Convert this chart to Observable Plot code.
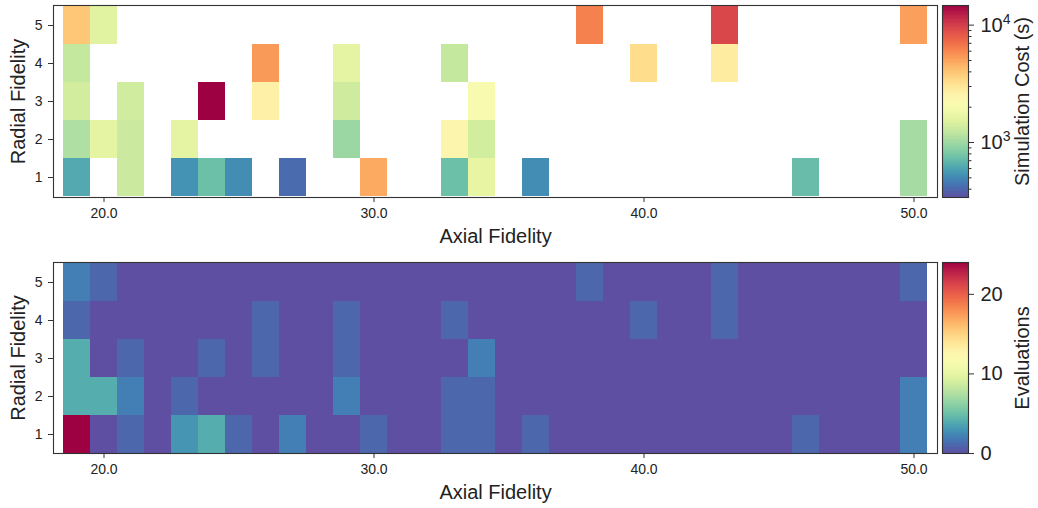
<!DOCTYPE html>
<html><head><meta charset="utf-8">
<script src="https://cdn.jsdelivr.net/npm/d3@7"></script>
<script src="https://cdn.jsdelivr.net/npm/@observablehq/plot@0.6"></script>
<style>
body{margin:0;background:#fff;font-family:"Liberation Sans",Arial,Helvetica,sans-serif;}
#fig{position:relative;width:1038px;height:508px;overflow:hidden;background:#fff;}
#fig > svg{position:absolute;overflow:visible;}
</style></head><body><div id="fig"></div>
<script>
// ---- data ----
const axial = [19,20,21,22,23,24,25,26,27,28,29,30,31,32,33,34,35,36,37,38,39,40,41,42,43,44,45,46,47,48,49,50];
const radial = [1,2,3,4,5];
const _ = null;
// Simulation cost (s), one array per radial fidelity (null = not evaluated)
const costR1 = [620,_,1300,_,530,740,510,_,410,_,_,4800,_,_,740,1650,_,510,_,_,_,_,_,_,_,_,_,720,_,_,_,1030];
const costR2 = [1090,1600,1300,_,1600,_,_,_,_,_,970,_,_,_,2400,1360,_,_,_,_,_,_,_,_,_,_,_,_,_,_,_,1030];
const costR3 = [1370,_,1350,_,_,14700,_,2590,_,_,1330,_,_,_,_,2060,_,_,_,_,_,_,_,_,_,_,_,_,_,_,_,_];
const costR4 = [1250,_,_,_,_,_,_,5300,_,_,1600,_,_,_,1250,_,_,_,_,_,_,3250,_,_,2790,_,_,_,_,_,_,_];
const costR5 = [3920,1550,_,_,_,_,_,_,_,_,_,_,_,_,_,_,_,_,_,6200,_,_,_,_,9300,_,_,_,_,_,_,5100];
// Number of evaluations, one array per radial fidelity
const evalR1 = [24,0,1,0,3,4,1,0,2,0,0,1,0,0,1,1,0,1,0,0,0,0,0,0,0,0,0,1,0,0,0,2];
const evalR2 = [4,4,2,0,1,0,0,0,0,0,2,0,0,0,1,1,0,0,0,0,0,0,0,0,0,0,0,0,0,0,0,2];
const evalR3 = [4,0,1,0,0,1,0,1,0,0,1,0,0,0,0,2,0,0,0,0,0,0,0,0,0,0,0,0,0,0,0,0];
const evalR4 = [1,0,0,0,0,0,0,1,0,0,1,0,0,0,1,0,0,0,0,0,0,1,0,0,1,0,0,0,0,0,0,0];
const evalR5 = [2,1,0,0,0,0,0,0,0,0,0,0,0,0,0,0,0,0,0,1,0,0,0,0,1,0,0,0,0,0,0,1];
const xTicks = [20,30,40,50];
const costTicks = [1000,10000];
const costMinorTicks = [400,500,600,700,800,900,2000,3000,4000,5000,6000,7000,8000,9000];
const evalTicks = [0,10,20];
const costDomain = [340,14700];
const evalDomain = [0,24];
const costLabel = "Simulation Cost (s)";
const evalLabel = "Evaluations";
const xLabel = "Axial Fidelity";
const yLabel = "Radial Fidelity";

// ---- build tables ----
function toTable(rows){
  const out = [];
  rows.forEach((row, ri) => row.forEach((v, ci) => { if (v !== null) out.push({axial: axial[ci], radial: radial[ri], value: v}); }));
  return out;
}
const costData = toTable([costR1,costR2,costR3,costR4,costR5]);
const evalData = toTable([evalR1,evalR2,evalR3,evalR4,evalR5]);

const FONT = "'Liberation Sans', Arial, Helvetica, sans-serif";
const INK = "#222";
const costColor = {type:"log", domain: costDomain, scheme:"spectral", reverse:true};
const evalColor = {type:"linear", domain: evalDomain, scheme:"spectral", reverse:true};

function heatmap(data, colorOpts, height, mb){
  return Plot.plot({
    width: 940, height, marginLeft: 53, marginRight: 3, marginTop: 5, marginBottom: mb,
    style: {fontFamily: FONT, fontSize: "14px", color: INK, background: "transparent", overflow: "visible"},
    x: {type:"band", domain: axial, padding: 0, label: null},
    y: {type:"band", domain: [...radial].reverse(), padding: 0, label: null},
    color: colorOpts,
    marks: [
      Plot.cell(data, {x:"axial", y:"radial", fill:"value", inset: 0}),
      Plot.frame({stroke:"#333", strokeWidth: 1.1}),
      Plot.axisX({ticks: xTicks, tickFormat: d3.format(".1f"), tickSize: 5, tickPadding: 6, fontSize: 14, label: null, stroke:"#333"}),
      Plot.axisY({ticks: radial, tickSize: 5, tickPadding: 6, fontSize: 14, label: null, stroke:"#333"}),
      Plot.text([xLabel], {frameAnchor:"bottom", lineAnchor:"middle", textAnchor:"middle", dy: 39, fontSize: 20, fill: INK}),
      Plot.text([yLabel], {frameAnchor:"left", lineAnchor:"middle", textAnchor:"middle", rotate: -90, dx: -35, fontSize: 20, fill: INK})
    ]
  });
}

function colorbar(colorOpts, ticks, minor, tickFormat, label, height, mb){
  const n = 240;
  const [a, b] = colorOpts.domain;
  const isLog = colorOpts.type === "log";
  const at = t => isLog ? Math.pow(10, Math.log10(a) + (Math.log10(b) - Math.log10(a)) * t) : a + (b - a) * t;
  const stops = d3.range(n).map(i => ({lo: at(i / n), hi: at((i + 1) / n), mid: at((i + 0.5) / n)}));
  const marks = [
    Plot.rect(stops, {x1: () => 0, x2: () => 1, y1: "lo", y2: "hi", fill: "mid", shapeRendering: "crispEdges"}),
    Plot.frame({stroke:"#333", strokeWidth: 1.1})
  ];
  if (minor.length) marks.push(Plot.axisY({anchor:"right", ticks: minor, tickSize: 2.5, tickFormat: () => "", label: null, stroke:"#333"}));
  marks.push(Plot.axisY({anchor:"right", ticks, tickSize: 5, tickPadding: 7, fontSize: 20, tickFormat, label: null, stroke:"#333"}));
  marks.push(Plot.text([label], {frameAnchor:"right", lineAnchor:"middle", textAnchor:"middle", rotate: -90, dx: 54, fontSize: 20, fill: INK}));
  return Plot.plot({
    width: 108, height, marginLeft: 12, marginRight: 70, marginTop: 5, marginBottom: mb,
    style: {fontFamily: FONT, fontSize: "14px", color: INK, background: "transparent", overflow: "visible"},
    x: {domain: [0, 1], axis: null},
    y: {type: colorOpts.type, domain: colorOpts.domain, label: null},
    color: colorOpts,
    marks
  });
}

const fig = document.getElementById("fig");
function place(svg, left, top){ svg.style.left = left + "px"; svg.style.top = top + "px"; fig.appendChild(svg); return svg; }

place(heatmap(costData, costColor, 250, 53), 0, 0);
place(heatmap(evalData, evalColor, 251, 55), 0, 257);
const cb1 = place(colorbar(costColor, costTicks, costMinorTicks, d => "10^" + Math.round(Math.log10(d)), costLabel, 250, 53), 930, 0);
place(colorbar(evalColor, evalTicks, [], d => String(d), evalLabel, 251, 55), 930, 257);

// render 10^k with a true superscript
d3.select(cb1).selectAll("text").each(function(){
  const t = this.textContent;
  const m = /^10\^(\d+)$/.exec(t);
  if (m) {
    const s = d3.select(this);
    s.text("10");
    s.append("tspan").attr("dy", "-0.55em").attr("font-size", "0.7em").text(m[1]);
  }
});
</script>
</body></html>
